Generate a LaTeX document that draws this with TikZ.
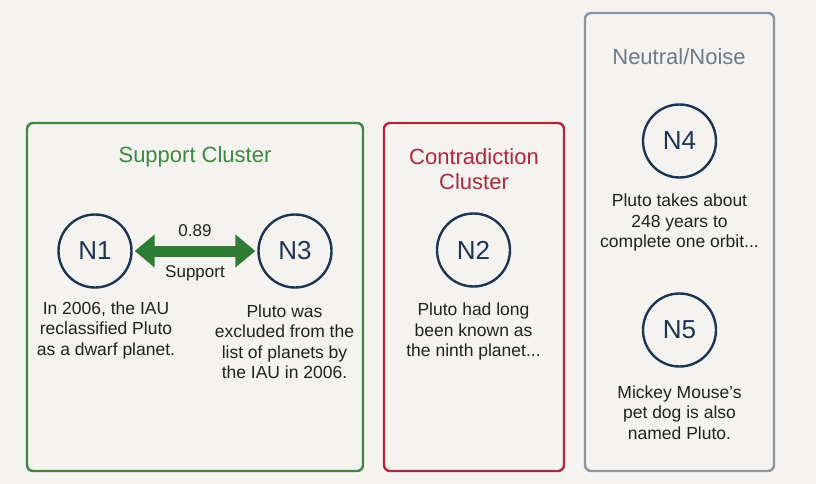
\documentclass[tikz,border=0pt]{standalone}
\usepackage{fontspec}
\setmainfont{Liberation Sans}
\usetikzlibrary{arrows.meta}
\definecolor{bg}{HTML}{F4F3EF}
\definecolor{grn}{HTML}{3A8A3F}
\definecolor{arrg}{HTML}{2F7D34}
\definecolor{redc}{HTML}{B3263F}
\definecolor{grayb}{HTML}{8A96A3}
\definecolor{grayt}{HTML}{6E7A88}
\definecolor{navy}{HTML}{1B3556}
\definecolor{txt}{HTML}{222222}
\tikzset{
  cluster/.style={draw, line width=2.4pt, rounded corners=6pt},
  ctitle/.style={font=\fontsize{22}{25}\selectfont, align=center},
  claim/.style={circle, draw=navy, line width=2.4pt, minimum size=73pt, inner sep=0pt, text=navy, font=\fontsize{26}{30}\selectfont},
  desc/.style={font=\fontsize{17.5}{20.5}\selectfont, align=center, text=txt},
  elabel/.style={font=\fontsize{17}{20}\selectfont, text=txt},
}
\begin{document}
\begin{tikzpicture}[x=1pt,y=-1pt]
\fill[bg] (0,0) rectangle (816,484);
\useasboundingbox (0,0) rectangle (816,484);
% clusters
\draw[cluster, grn] (27,123) rectangle (363,471);
\draw[cluster, redc] (384,123) rectangle (564,471);
\draw[cluster, grayb] (585,13) rectangle (774,471);
\node[ctitle, text=grn] (t1) at (195,157) {Support Cluster};
\node[ctitle, text=redc] (t2) at (474,169.5) {Contradiction\\Cluster};
\node[ctitle, text=grayt] (t3) at (679,57) {Neutral/Noise};
% nodes
\node[claim] (N1) at (95,251) {N1};
\node[claim] (N3) at (295,251) {N3};
\node[claim] (N2) at (473.5,250) {N2};
\node[claim] (N4) at (679.5,141) {N4};
\node[claim] (N5) at (679.5,330) {N5};
% descriptions
\node[desc] (d1) at (106,330) {In 2006, the IAU\\reclassified Pluto\\as a dwarf planet.};
\node[desc] (d3) at (284.5,341.5) {Pluto was\\excluded from the\\list of planets by\\the IAU in 2006.};
\node[desc] (d2) at (473.5,331.5) {Pluto had long\\been known as\\the ninth planet...};
\node[desc] (d4) at (679.5,222.5) {Pluto takes about\\248 years to\\complete one orbit...};
\node[desc] (d5) at (679.5,412.5) {Mickey Mouse's\\pet dog is also\\named Pluto.};
% edge
\draw[arrg, line width=11pt, {Triangle[width=32pt,length=20pt]}-{Triangle[width=32pt,length=20pt]}, shorten <=2pt, shorten >=2pt] (N1) -- (N3)
  node[pos=0.5, above=6pt, elabel] (w) {0.89}
  node[pos=0.5, below=6pt, elabel] (l) {Support};
\end{tikzpicture}
\end{document}
